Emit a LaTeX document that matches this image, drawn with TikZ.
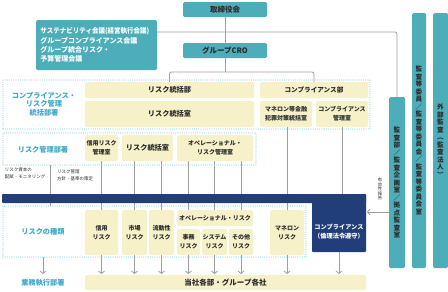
\documentclass[tikz,border=0pt]{standalone}
\usepackage{fontspec}
\usepackage{graphicx}
\setmainfont{Noto Sans CJK JP}
\usetikzlibrary{arrows.meta,backgrounds}
\definecolor{tealc}{HTML}{4DAEBA}
\definecolor{creamc}{HTML}{F6F1C9}
\definecolor{navyc}{HTML}{213E7A}
\definecolor{labc}{HTML}{3FA7C6}
\definecolor{dotc}{HTML}{94D2E2}
\definecolor{grayc}{HTML}{9E9E9E}
\definecolor{darktxt}{HTML}{2B2B2B}
\newcommand\fs[2]{\fontsize{#1}{#2}\selectfont}
\newcommand\bx[7]{\node[#6, minimum width={(#4)-(#2)}, minimum height={(#5)-(#3)}] (#1) at ({((#2)+(#4))/2},{((#3)+(#5))/2}) {#7};}
\tikzset{
  every node/.style={inner sep=0pt, outer sep=0pt},
  tbox/.style={fill=tealc, rounded corners=1.5pt, text=darktxt, align=center, font=\fs{7.5}{8.5}\bfseries},
  vbox/.style={fill=tealc, rounded corners=1.5pt, text=darktxt, align=center, font=\fs{6.6}{7.5}\bfseries},
  bigbox/.style={fill=creamc, rounded corners=1.5pt, text=darktxt, align=center, font=\fs{7.2}{9}\bfseries},
  smallbox/.style={fill=creamc, rounded corners=1.5pt, text=darktxt, align=center, font=\fs{6}{9.2}\bfseries},
  zone/.style={draw=dotc, line width=1.2pt, dash pattern=on 0pt off 2.2pt, line cap=round},
  navy/.style={fill=navyc, rounded corners=0.8pt},
  lbl/.style={text=labc, align=center, font=\fs{7.2}{8.3}\bfseries},
  note/.style={text=darktxt, align=left, font=\fs{4.5}{7}},
  conn/.style={draw=grayc, line width=0.8pt},
  arr/.style={conn, -{Straight Barb[length=2.5pt,width=6pt]}, shorten >=1pt},
}
\begin{document}
\begin{tikzpicture}[x=1pt,y=-1pt]
\useasboundingbox (0,0) rectangle (448,292);
% zones
\bx{z1}{3}{80}{370}{129}{zone}{}
\bx{z2}{3}{133}{256}{165}{zone}{}
\bx{z3}{3}{206}{306}{257}{zone}{}
% top
\bx{board}{183}{2}{267}{17}{tbox}{取締役会}
\bx{cro}{183}{43}{267}{58}{tbox}{グループCRO}
\bx{com}{36}{20}{157}{70}{tbox, text=white, align=left, text width=112pt, font=\fs{7}{9.3}\bfseries}{\scalebox{0.93}[1]{サステナビリティ会議(経営執行会議)}\\グループコンプライアンス会議\\グループ統合リスク・\\予算管理会議}
% region 1
\bx{rtb}{85}{82}{254}{98}{bigbox}{リスク統括部}
\bx{rts}{85}{101}{254}{127}{bigbox}{リスク統括室}
\bx{cmp}{260}{82}{368}{98}{bigbox, font=\fs{6.6}{8}\bfseries}{コンプライアンス部}
\bx{mnr}{260}{101}{312}{127}{smallbox}{マネロン等金融\\犯罪対策統括室}
\bx{cmg}{316}{101}{368}{127}{smallbox}{コンプライアンス\\管理室}
% region 2
\bx{crd}{85}{135}{118}{161}{smallbox}{信用リスク\\管理室}
\bx{rks}{122}{135}{173}{161}{bigbox}{リスク統括室}
\bx{opr}{177}{135}{253}{161}{smallbox}{オペレーショナル・\\リスク管理室}
% region 3
\bx{r3cr}{85}{210}{118}{255}{smallbox}{信用\\リスク}
\bx{r3mk}{122}{210}{147}{255}{smallbox}{市場\\リスク}
\bx{r3lq}{149}{210}{174}{255}{smallbox}{流動性\\リスク}
\bx{r3op}{177}{210}{253}{226}{smallbox}{オペレーショナル・リスク}
\bx{r3jm}{177}{229}{200}{255}{smallbox}{事務\\リスク}
\bx{r3sy}{202}{229}{227}{255}{smallbox}{システム\\リスク}
\bx{r3ot}{229}{229}{253}{255}{smallbox}{その他\\リスク}
\bx{r3mn}{270}{210}{304}{255}{smallbox}{マネロン\\リスク}
% navy
\bx{bar}{2}{194}{366}{203}{navy}{}
\bx{cpl}{312}{194}{366}{252}{navy}{}
\node[text=white, align=center, font=\fs{6.2}{9}\bfseries] (cpltxt) at (339,232) {コンプライアンス\\（倫理法令遵守）};
% bottom
\bx{biz}{85}{275}{366}{290}{bigbox, font=\fs{7.5}{9}\bfseries}{当社各部・グループ各社}
% audit columns
\bx{aud}{389}{97}{405}{268}{vbox}{監\\査\\部\\／\\監\\査\\企\\画\\室\\／\\拠\\点\\監\\査\\室}
\bx{ace}{412}{13}{426}{268}{vbox}{監\\査\\等\\委\\員\\／\\監\\査\\等\\委\\員\\会\\／\\監\\査\\等\\委\\員\\会\\室}
\bx{ext}{433}{13}{448}{268}{vbox}{外\\部\\監\\査\\︵\\監\\査\\法\\人\\︶}
\node[text=darktxt, align=center, font=\fs{4.3}{4.5}] (rep) at (380,189) {有\\効\\性\\報\\告};
% labels
\node[lbl] (lb1) at (44,104) {コンプライアンス・\\リスク管理\\統括部署};
\node[lbl] (lb2) at (43,150) {リスク管理部署};
\node[lbl] (lb3) at (43,232) {リスクの種類};
\node[lbl] (lb4) at (43,283) {業務執行部署};
\node[note, anchor=north west] (n1) at (5,168) {リスク資本の\\配賦・モニタリング};
\node[note, anchor=north west] (n2) at (57,170) {リスク管理\\方針・基準の策定};
% connectors
\coordinate (hl) at (0,32);
\coordinate (br) at (0,72);
\coordinate (sep) at (50,0);
\coordinate (rp) at (0,212);
\begin{scope}[on background layer]
\draw[conn] (board.south) -- (cro.north);
\draw[conn, rounded corners=2pt] (com.east |- hl) -| (aud.north);
\draw[conn] (cro.south) -- (cro.south |- br);
\draw[conn, rounded corners=2pt] (rtb.north) |- (cmp.north |- br) -- (cmp.north);
\draw[conn] (r3cr.north |- crd.south) -- (r3cr.north);
\draw[conn] (r3mk.north |- rks.south) -- (r3mk.north);
\draw[conn] (r3lq.north |- rks.south) -- (r3lq.north);
\draw[conn] (r3jm.north |- opr.south) -- (r3jm.north |- r3op.north);
\draw[conn] (r3sy.north |- opr.south) -- (r3sy.north |- r3op.north);
\draw[conn] (r3ot.north |- opr.south) -- (r3ot.north |- r3op.north);
\draw[conn] (r3mn.north |- mnr.south) -- (r3mn.north);
\draw[conn] (cmg.south) -- (cmg.south |- bar.north);
\draw[conn] (sep |- z2.south) -- (sep |- z3.north);
\end{scope}
\draw[arr] (lb4.north |- z3.south) -- (lb4.north |- biz.north);
\draw[arr] (r3cr.south) -- (r3cr.south |- biz.north);
\draw[arr] (r3mk.south) -- (r3mk.south |- biz.north);
\draw[arr] (r3lq.south) -- (r3lq.south |- biz.north);
\draw[arr] (r3jm.south) -- (r3jm.south |- biz.north);
\draw[arr] (r3sy.south) -- (r3sy.south |- biz.north);
\draw[arr] (r3ot.south) -- (r3ot.south |- biz.north);
\draw[arr] (r3mn.south) -- (r3mn.south |- biz.north);
\draw[arr] (cpl.south) -- (cpl.south |- biz.north);
\draw[arr] (aud.west |- rp) -- (cpl.east |- rp);
\end{tikzpicture}
\end{document}
